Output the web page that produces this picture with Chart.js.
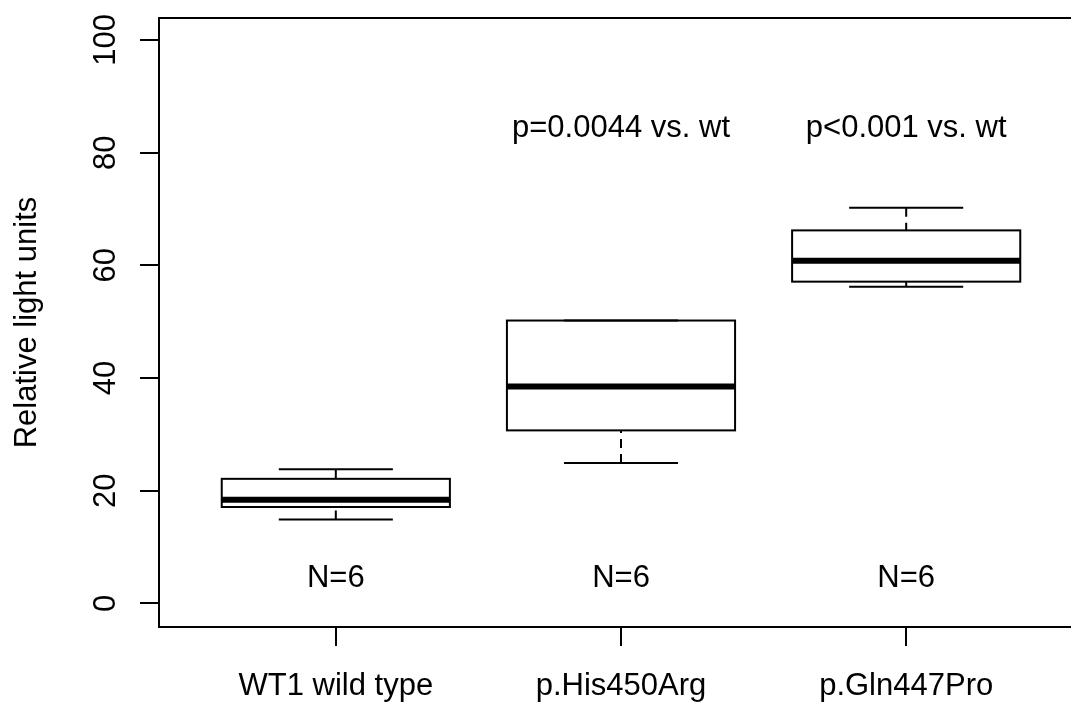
<!DOCTYPE html>
<html>
<head>
<meta charset="utf-8">
<script src="https://cdn.jsdelivr.net/npm/chart.js@4.4.0/dist/chart.umd.min.js"></script>
<style>
  html, body { margin: 0; padding: 0; overflow: hidden; background: #fff; }
  canvas { display: block; }
</style>
</head>
<body>
<canvas id="grafico" width="1092" height="704"></canvas>
<script>
const grupos = ["WT1 wild type", "p.His450Arg", "p.Gln447Pro"];
const minimos = [14.9, 24.9, 56.2];
const q1 = [17.1, 30.7, 57.1];
const medianas = [18.4, 38.5, 60.8];
const q3 = [22.1, 50.2, 66.2];
const maximos = [23.8, 50.2, 70.2];
const tamanos = ["N=6", "N=6", "N=6"];
const pValores = ["", "p=0.0044 vs. wt", "p<0.001 vs. wt"];
const ticksY = [0, 20, 40, 60, 80, 100];

const fuente = '"Liberation Sans", Arial, sans-serif';
const tamLetra = 31;
Chart.defaults.font.family = fuente;
Chart.defaults.color = "#000";

// contorno de cajas, bigotes, medianas, textos y marco
const cajas = {
  id: "cajas",
  afterDatasetsDraw(chart) {
    const {ctx, scales: {x, y}} = chart;
    const barras = chart.getDatasetMeta(0).data;
    ctx.save();
    ctx.strokeStyle = "#000";
    ctx.fillStyle = "#000";
    grupos.forEach((g, i) => {
      const b = barras[i];
      const cx = b.x;
      const mitad = b.width / 2;
      const cap = mitad / 2;

      ctx.lineWidth = 2;
      ctx.setLineDash([9, 6]);
      ctx.beginPath();
      ctx.moveTo(cx, y.getPixelForValue(minimos[i]));
      ctx.lineTo(cx, y.getPixelForValue(q1[i]));
      ctx.moveTo(cx, y.getPixelForValue(maximos[i]));
      ctx.lineTo(cx, y.getPixelForValue(q3[i]));
      ctx.stroke();
      ctx.setLineDash([]);

      ctx.beginPath();
      [minimos[i], maximos[i]].forEach(v => {
        const py = y.getPixelForValue(v);
        ctx.moveTo(cx - cap, py);
        ctx.lineTo(cx + cap, py);
      });
      ctx.stroke();

      ctx.strokeRect(cx - mitad, b.y, b.width, b.base - b.y);

      ctx.lineWidth = 6;
      ctx.beginPath();
      const pm = y.getPixelForValue(medianas[i]);
      ctx.moveTo(cx - mitad, pm);
      ctx.lineTo(cx + mitad, pm);
      ctx.stroke();

      ctx.font = tamLetra + "px " + fuente;
      ctx.textAlign = "center";
      ctx.textBaseline = "middle";
      if (pValores[i]) ctx.fillText(pValores[i], cx, y.getPixelForValue(85) + 4);
      ctx.fillText(tamanos[i], cx, y.getPixelForValue(5) + 3);
    });
    const a = chart.chartArea;
    ctx.lineWidth = 2;
    ctx.strokeRect(a.left, a.top, a.right - a.left, a.bottom - a.top);
    ctx.restore();
  }
};

const ctx = document.getElementById("grafico").getContext("2d");
new Chart(ctx, {
  type: "bar",
  data: {
    datasets: [{
      data: grupos.map((g, i) => ({x: i + 1, y: [q1[i], q3[i]]})),
      backgroundColor: "#fff",
      borderWidth: 0,
      categoryPercentage: 1,
      barPercentage: 0.8
    }]
  },
  options: {
    responsive: false,
    animation: false,
    devicePixelRatio: 1,
    layout: { padding: { top: 18, right: 9, bottom: 0, left: 0 } },
    plugins: {
      legend: { display: false },
      tooltip: { enabled: false }
    },
    scales: {
      x: {
        type: "linear",
        min: 0.38,
        max: 3.62,
        offset: false,
        afterBuildTicks: eje => { eje.ticks = [1, 2, 3].map(v => ({value: v})); },
        afterFit: eje => { eje.height = 77; eje.paddingLeft = 0; eje.paddingRight = 0; },
        grid: { offset: false, drawOnChartArea: false, drawTicks: true, tickLength: 19, color: "#000", lineWidth: 2 },
        border: { display: false },
        ticks: {
          callback: v => grupos[v - 1],
          color: "#000",
          font: { size: tamLetra },
          padding: 22,
          maxRotation: 0,
          autoSkip: false
        }
      },
      y: {
        type: "linear",
        min: -4.2,
        max: 103.9,
        afterBuildTicks: eje => { eje.ticks = ticksY.map(v => ({value: v})); },
        afterFit: eje => { eje.width = 159; eje.paddingTop = 0; eje.paddingBottom = 0; },
        grid: { drawOnChartArea: false, drawTicks: true, tickLength: 19, color: "#000", lineWidth: 2 },
        border: { display: false },
        ticks: {
          color: "#000",
          font: { size: tamLetra },
          padding: 8,
          minRotation: 90,
          maxRotation: 90,
          crossAlign: "center",
          autoSkip: false
        },
        title: {
          display: true,
          text: "Relative light units",
          color: "#000",
          font: { size: tamLetra },
          padding: { top: 9, bottom: 0 }
        }
      }
    }
  },
  plugins: [cajas]
});
</script>
</body>
</html>
